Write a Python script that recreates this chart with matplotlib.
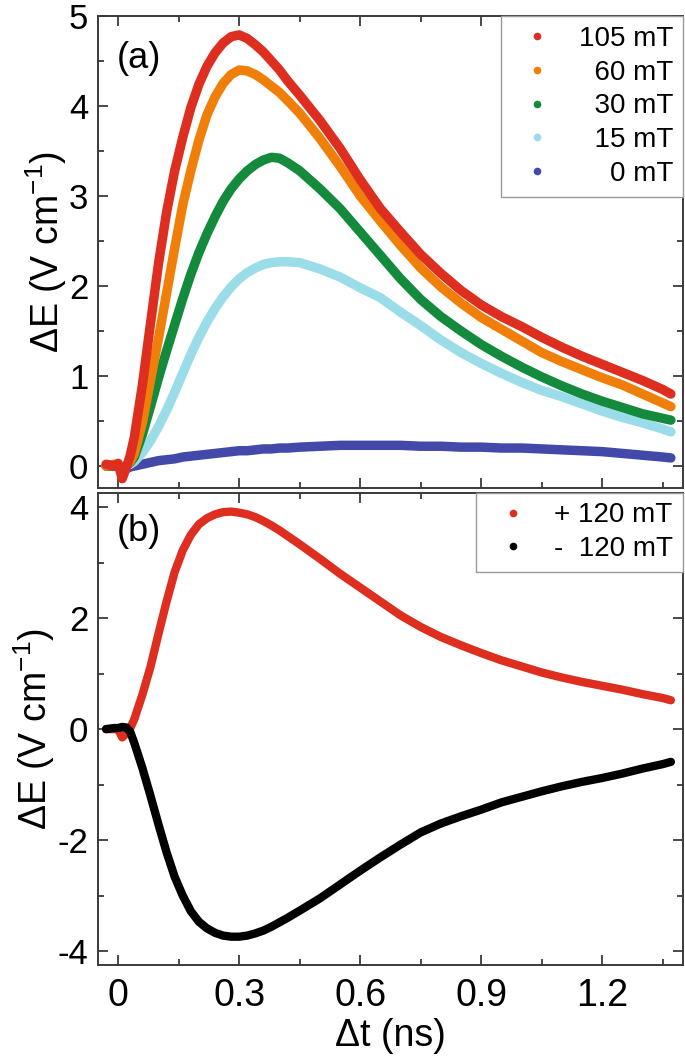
import matplotlib
matplotlib.use("Agg")
import matplotlib.pyplot as plt
from matplotlib.ticker import MultipleLocator

plt.rcParams['font.family'] = ['Liberation Sans', 'DejaVu Sans']
plt.rcParams['mathtext.fontset'] = 'custom'
plt.rcParams['mathtext.rm'] = 'Liberation Sans'
plt.rcParams['mathtext.default'] = 'regular'
plt.rcParams['axes.unicode_minus'] = False

# ---------------- data ----------------
t = [-0.03, -0.01, 0.00, 0.01, 0.02, 0.03,
     0.04, 0.06, 0.08, 0.10, 0.12, 0.14, 0.16, 0.18, 0.20, 0.22,
     0.24, 0.26, 0.28, 0.30, 0.32, 0.34, 0.36, 0.38, 0.40, 0.42,
     0.45, 0.50, 0.55, 0.60, 0.65, 0.70, 0.75, 0.80, 0.85, 0.90,
     0.95, 1.00, 1.05, 1.10, 1.15, 1.20, 1.25, 1.30, 1.35, 1.37]

e_105 = [0.02, 0.0, 0.03, -0.14, -0.02, 0.12,
         0.32, 0.90, 1.58, 2.25, 2.82, 3.28, 3.65, 3.98, 4.24, 4.44,
         4.59, 4.70, 4.77, 4.79, 4.75, 4.68, 4.60, 4.50, 4.40, 4.28,
         4.12, 3.84, 3.53, 3.18, 2.86, 2.60, 2.35, 2.14, 1.95, 1.79,
         1.66, 1.55, 1.43, 1.32, 1.22, 1.13, 1.04, 0.95, 0.85, 0.80]
e_60 = [0.0, 0.02, 0.0, -0.06, 0.0, 0.05,
        0.14, 0.48, 0.95, 1.42, 1.92, 2.42, 2.90, 3.28, 3.62, 3.90,
        4.10, 4.25, 4.35, 4.40, 4.39, 4.35, 4.29, 4.22, 4.15, 4.06,
        3.92, 3.64, 3.33, 3.00, 2.72, 2.45, 2.20, 1.99, 1.81, 1.65,
        1.52, 1.39, 1.26, 1.16, 1.07, 0.98, 0.90, 0.80, 0.70, 0.66]
e_30 = [0.0, 0.0, 0.0, -0.05, 0.0, 0.04,
        0.10, 0.35, 0.66, 0.98, 1.28, 1.57, 1.86, 2.13, 2.37, 2.58,
        2.77, 2.94, 3.08, 3.19, 3.28, 3.35, 3.40, 3.43, 3.42, 3.37,
        3.28, 3.08, 2.86, 2.60, 2.34, 2.08, 1.85, 1.66, 1.50, 1.35,
        1.22, 1.10, 0.99, 0.89, 0.80, 0.72, 0.65, 0.58, 0.53, 0.51]
e_15 = [0.0, 0.0, 0.0, -0.04, 0.0, 0.02,
        0.05, 0.15, 0.28, 0.44, 0.62, 0.82, 1.03, 1.24, 1.43, 1.60,
        1.75, 1.88, 1.99, 2.08, 2.15, 2.20, 2.24, 2.26, 2.27, 2.27,
        2.26, 2.19, 2.10, 1.98, 1.87, 1.71, 1.56, 1.40, 1.26, 1.14,
        1.03, 0.93, 0.84, 0.77, 0.69, 0.61, 0.54, 0.48, 0.41, 0.38]
e_0 = [0.0, 0.0, 0.0, -0.05, -0.03, -0.01,
       0.0, 0.02, 0.04, 0.06, 0.07, 0.08, 0.10, 0.11, 0.12, 0.13,
       0.14, 0.15, 0.16, 0.17, 0.17, 0.18, 0.19, 0.19, 0.20, 0.20,
       0.21, 0.22, 0.23, 0.23, 0.23, 0.23, 0.22, 0.22, 0.21, 0.21,
       0.20, 0.20, 0.19, 0.18, 0.17, 0.16, 0.14, 0.12, 0.10, 0.09]

e_p120 = [0.0, 0.0, 0.0, -0.15, -0.08, 0.02,
          0.18, 0.62, 1.12, 1.72, 2.30, 2.83, 3.22, 3.50, 3.69, 3.80,
          3.87, 3.91, 3.92, 3.90, 3.87, 3.82, 3.75, 3.67, 3.58, 3.48,
          3.33, 3.07, 2.80, 2.55, 2.30, 2.05, 1.84, 1.66, 1.51, 1.37,
          1.24, 1.13, 1.02, 0.93, 0.85, 0.78, 0.71, 0.63, 0.56, 0.52]
e_m120 = [0.0, 0.02, 0.02, 0.04, 0.03, -0.05,
          -0.25, -0.70, -1.20, -1.72, -2.22, -2.66, -3.00, -3.28, -3.47, -3.59,
          -3.67, -3.72, -3.74, -3.74, -3.72, -3.68, -3.63, -3.56, -3.48, -3.40,
          -3.27, -3.05, -2.80, -2.55, -2.31, -2.08, -1.86, -1.70, -1.57, -1.45,
          -1.32, -1.22, -1.12, -1.03, -0.95, -0.88, -0.80, -0.71, -0.63, -0.59]

labels_a = ["105 mT", "  60 mT", "  30 mT", "  15 mT", "    0 mT"]
labels_b = ["+ 120 mT", "-  120 mT"]
colors_a = ["#DD2E1F", "#F07F0A", "#138A3C", "#9ADCE8", "#4249A8"]
colors_b = ["#DD2E1F", "#000000"]

# ---------------- figure ----------------
fig = plt.figure(figsize=(6.85, 10.6), dpi=100)
axa = fig.add_axes([98/685, 1-488/1060, 585/685, 472/1060])
axb = fig.add_axes([98/685, 1-965/1060, 585/685, 472.3/1060])

spine_col = "#3a3a3a"
lw_curve_a = 6.8
lw_curve_b = 6.0

series_a = [e_105, e_60, e_30, e_15, e_0]
for i in [4, 3, 2, 1, 0]:
    axa.plot(t, series_a[i], color=colors_a[i], lw=lw_curve_a,
             solid_capstyle='round', solid_joinstyle='round', zorder=2 + (4 - i))
hands_a = [axa.plot([], [], ls='none', marker='o', ms=4.5, color=c)[0] for c in colors_a]

axb.plot(t, e_p120, color=colors_b[0], lw=lw_curve_b, solid_capstyle='round',
         solid_joinstyle='round', zorder=2)
axb.plot(t, e_m120, color=colors_b[1], lw=lw_curve_b, solid_capstyle='round',
         solid_joinstyle='round', zorder=3)
hands_b = [axb.plot([], [], ls='none', marker='o', ms=4.5, color=c)[0] for c in colors_b]

for ax in (axa, axb):
    ax.set_xlim(-0.05, 1.40)
    ax.xaxis.set_major_locator(MultipleLocator(0.3))
    ax.xaxis.set_minor_locator(MultipleLocator(0.15))
    for s in ax.spines.values():
        s.set_color(spine_col)
        s.set_linewidth(1.4)
    ax.tick_params(which='both', direction='in', top=True, right=True,
                   color=spine_col, width=1.3)
    ax.tick_params(which='major', length=7)
    ax.tick_params(which='minor', length=4.5)
    ax.tick_params(axis='y', labelsize=25, pad=7)
    ax.tick_params(axis='x', labelsize=27, pad=9)
    ax.set_ylabel("ΔE (V cm$^{-1}$)", fontsize=27, labelpad=0)

axa.set_ylim(-0.244, 5.0)
axa.yaxis.set_major_locator(MultipleLocator(1))
axa.yaxis.set_minor_locator(MultipleLocator(0.5))
axa.tick_params(axis='x', labelbottom=False)

axb.set_ylim(-4.25, 4.26)
axb.yaxis.set_major_locator(MultipleLocator(2))
axb.yaxis.set_minor_locator(MultipleLocator(1))
axb.set_xticks([0, 0.3, 0.6, 0.9, 1.2])
axb.set_xticklabels(["0", "0.3", "0.6", "0.9", "1.2"])
axb.set_xlabel("Δt (ns)", fontsize=27, labelpad=3)

axa.text(0.032, 0.911, "(a)", transform=axa.transAxes, fontsize=26,
         ha='left', va='center')
axb.text(0.032, 0.917, "(b)", transform=axb.transAxes, fontsize=26,
         ha='left', va='center')

leg_kw = dict(loc='upper right', fontsize=20, frameon=True, fancybox=False,
              framealpha=1, edgecolor='#9a9a9a', borderaxespad=0.0,
              handlelength=1.9, handletextpad=0.55, labelspacing=0.28,
              borderpad=0.35, numpoints=1)
la = axa.legend(hands_a, labels_a, **leg_kw)
la.get_frame().set_linewidth(1.0)
lb = axb.legend(hands_b, labels_b, **leg_kw)
lb.get_frame().set_linewidth(1.0)

fig.savefig("out.png", dpi=100)
